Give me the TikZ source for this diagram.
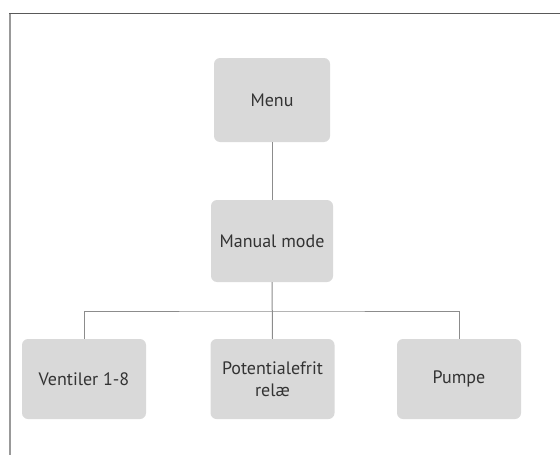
\documentclass[tikz,border=0pt]{standalone}
\usepackage{fontspec}
\setmainfont{PT Sans}
\usepackage{tikz}
\usetikzlibrary{calc}
\definecolor{box grey}{HTML}{D9D9D9}
\definecolor{line grey}{HTML}{8C8C8C}
\definecolor{text grey}{HTML}{333333}
\tikzset{
    menubox/.style={fill=box grey, rounded corners=6pt, text=text grey, align=center,
        font=\fontsize{18}{22}\selectfont, inner sep=0pt},
    link/.style={draw=line grey, line width=1pt}
}

\begin{document}
\begin{tikzpicture}[x=1pt, y=-1pt]
        \useasboundingbox (0, 0) rectangle (560, 455);
        % frame
        \draw[line width=2pt, color=black!40] (9.5, 13) -- (9.5, 455);
        \draw[line width=1pt, color=black!65] (9, 13.5) -- (560, 13.5);
        % boxes
        \node[menubox, minimum width=116pt, minimum height=84pt] (menu) at (272, 100) {Menu};
        \node[menubox, minimum width=122pt, minimum height=82pt] (manual) at (272, 241) {Manual mode};
        \foreach \x/\name/\txt in {84/ventiler/{Ventiler 1-8}, 272.5/relae/{Potentialefrit\\relæ}, 459/pumpe/Pumpe} {
            \node[menubox, minimum width=124pt, minimum height=80pt] (\name) at (\x, 379) {\txt};
        }
        \coordinate (split) at (272, 311);
        % connectors
        \draw[link] (menu.south) -- (manual.north);
        \draw[link] (manual.south) -- (relae.north);
        \draw[link] (ventiler.north) |- (split) -| (pumpe.north);
    \end{tikzpicture}
\end{document}
